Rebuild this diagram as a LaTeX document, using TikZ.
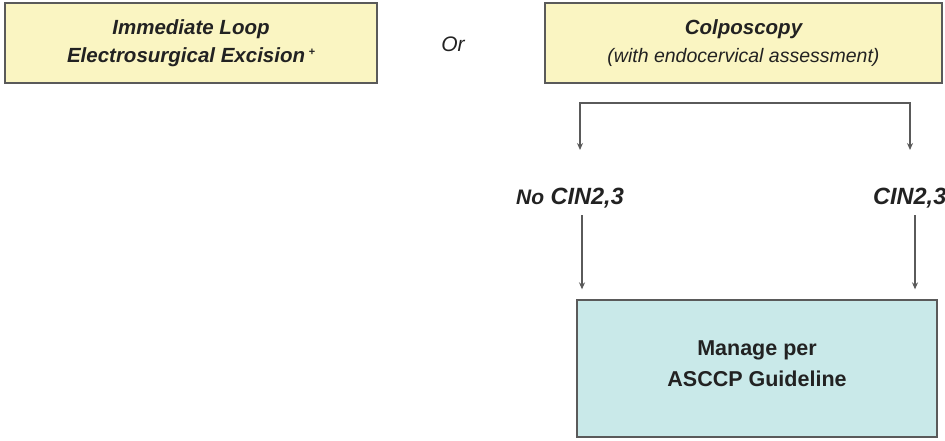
\documentclass[tikz,border=0pt]{standalone}
\usepackage{fontspec}
\setmainfont{Liberation Sans}
\usepackage{xcolor}
\usetikzlibrary{arrows.meta,positioning}
\definecolor{paleyellow}{HTML}{FAF5C2}
\definecolor{paleblue}{HTML}{C9E9E9}
\definecolor{edge}{HTML}{5A5A5A}
\definecolor{ink}{HTML}{222222}

\begin{document}
\begin{tikzpicture}[x=1pt, y=-1pt,
  box/.style={draw=edge, line width=1.3pt, fill=paleyellow, align=center, text=ink,
              font=\fontsize{20.5}{28}\selectfont\bfseries\itshape, inner sep=0pt},
  tag/.style={text=ink, font=\fontsize{23.5}{26}\selectfont\bfseries\itshape, inner sep=0pt},
  flow/.style={-{Stealth[length=7pt, width=6pt]}, line width=1.2pt, edge}]
\useasboundingbox (0,0) rectangle (945,440);
\node[box, minimum width=372pt, minimum height=80pt] (leep) at (191,43)
  {Immediate Loop\\Electrosurgical Excision\,\raisebox{0.6ex}{\fontsize{11}{11}\selectfont+}};
\node[text=ink, font=\fontsize{21}{24}\selectfont\itshape] (or) at (453,44) {Or};
\node[box, minimum width=397pt, minimum height=80pt] (colpo) at (743.5,43)
  {Colposcopy\\{\fontsize{19.5}{28}\selectfont\mdseries(with endocervical assessment)}};
\node[tag, anchor=center] (nocin) at (570,198) {{\fontsize{21}{26}\selectfont No} CIN2,3};
\node[tag, anchor=west] (cin) at (873,198) {CIN2,3};
\node[box, fill=paleblue, font=\fontsize{21.5}{31}\selectfont\bfseries,
      minimum width=360pt, minimum height=137pt] (mng) at (757,368.5)
  {Manage per\\ASCCP Guideline\\[-21pt]};
% bracket under colposcopy
\coordinate (top) at (745,103);
\coordinate (lt) at (580,150);
\coordinate (rt) at (910,150);
\draw[flow] (top) -| (lt);
\draw[flow] (top) -| (rt);
% results to management
\coordinate (la) at (582,215);
\coordinate (ra) at (915,215);
\draw[flow, shorten >=10pt] (la) -- (la |- mng.north);
\draw[flow, shorten >=10pt] (ra) -- (ra |- mng.north);
\end{tikzpicture}
\end{document}
